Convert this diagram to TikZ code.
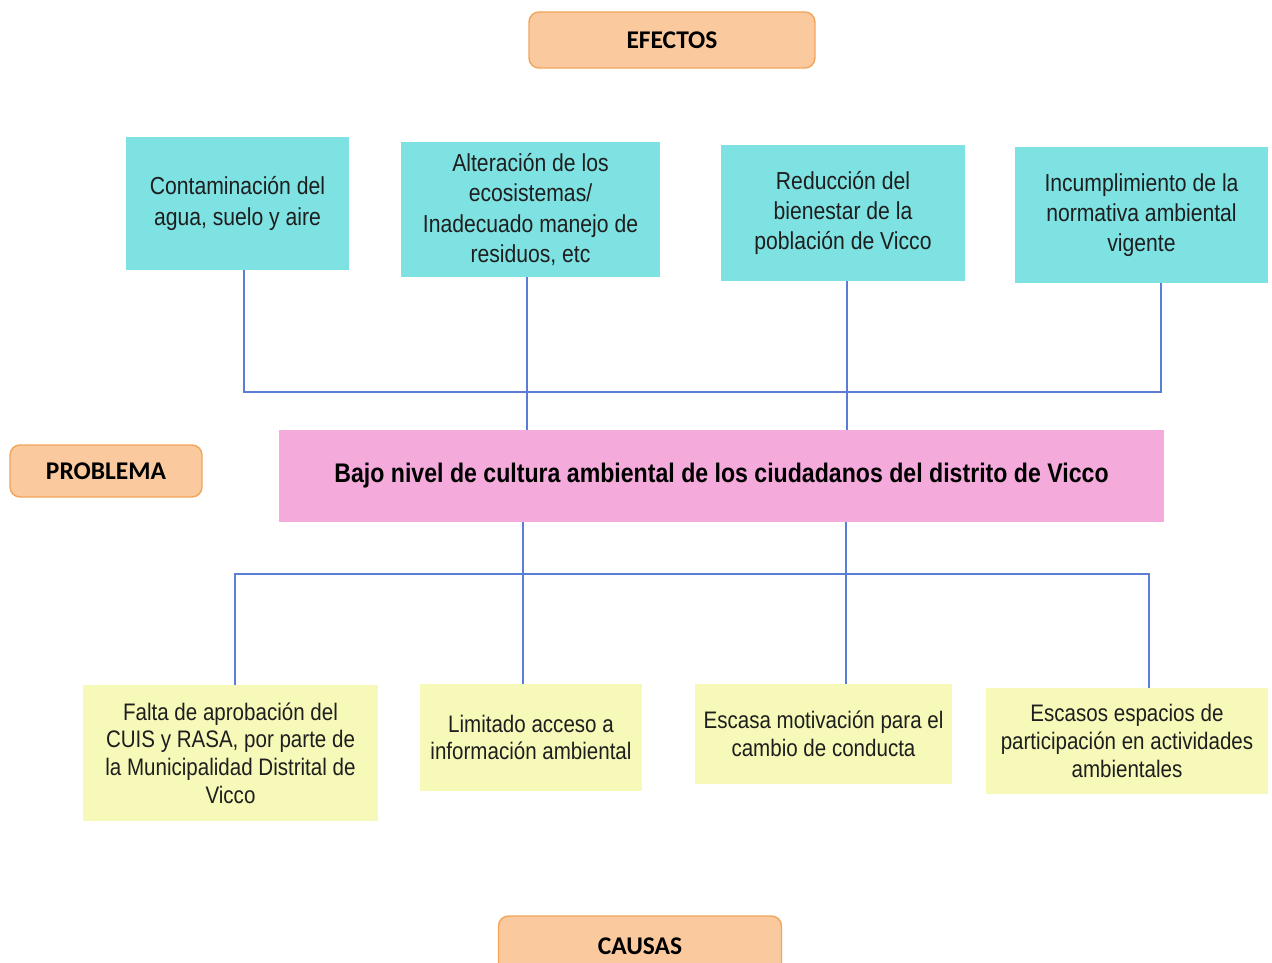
\documentclass[tikz,border=0pt]{standalone}
\usepackage{fontspec}
\setmainfont{Liberation Sans}
\newfontfamily\narrowf[FakeStretch=0.86]{Liberation Sans}
\newfontfamily\hdrf{Carlito}
\definecolor{hdrfill}{RGB}{250,202,158}
\definecolor{hdrborder}{RGB}{242,165,90}
\definecolor{effcol}{RGB}{126,226,226}
\definecolor{probcol}{RGB}{245,170,220}
\definecolor{causecol}{RGB}{246,249,184}
\definecolor{conncol}{RGB}{90,126,214}
\definecolor{txt}{RGB}{30,30,30}
\begin{document}
\begin{tikzpicture}[x=0.02cm,y=-0.02cm,
  hdr/.style={draw=hdrborder, fill=hdrfill, rounded corners=0.2cm, line width=0.8pt,
    font=\hdrf\bfseries\fontsize{14.5}{17}\selectfont, text=black, inner sep=0pt},
  eff/.style={fill=effcol, align=center, font=\narrowf\fontsize{14}{17.2}\selectfont, text=txt, inner sep=0pt},
  prob/.style={fill=probcol, align=center, font=\narrowf\bfseries\fontsize{15.3}{18}\selectfont, text=black, inner sep=0pt},
  cause/.style={fill=causecol, align=center, font=\narrowf\fontsize{13.6}{15.8}\selectfont, text=txt, inner sep=0pt},
  conn/.style={draw=conncol, line width=0.9pt}]
\useasboundingbox (0,0) rectangle (1272,963);
% headers
\node[hdr, minimum width={286*0.02cm}, minimum height={56*0.02cm}] (efectos) at (672,40) {EFECTOS};
\node[hdr, minimum width={192*0.02cm}, minimum height={52*0.02cm}] (problema) at (106,471) {PROBLEMA};
\node[hdr, minimum width={283*0.02cm}, minimum height={60*0.02cm}] (causas) at (640,946) {CAUSAS};
% effects
\node[eff, minimum width={223*0.02cm}, minimum height={133*0.02cm}] (e1) at (237.5,203.5) {Contaminación del\\agua, suelo y aire};
\node[eff, minimum width={259*0.02cm}, minimum height={135*0.02cm}] (e2) at (530.5,209.5) {Alteración de los\\ecosistemas/\\Inadecuado manejo de\\residuos, etc};
\node[eff, minimum width={244*0.02cm}, minimum height={136*0.02cm}] (e3) at (843,213) {Reducción del\\bienestar de la\\población de Vicco};
\node[eff, minimum width={253*0.02cm}, minimum height={136*0.02cm}] (e4) at (1141.5,215) {Incumplimiento de la\\normativa ambiental\\vigente};
% problem
\node[prob, minimum width={885*0.02cm}, minimum height={92*0.02cm}] (prob) at (721.5,476) {Bajo nivel de cultura ambiental de los ciudadanos del distrito de Vicco};
% causes
\node[cause, minimum width={295*0.02cm}, minimum height={136*0.02cm}] (c1) at (230.5,753) {Falta de aprobación del\\CUIS y RASA, por parte de\\la Municipalidad Distrital de\\Vicco};
\node[cause, minimum width={222*0.02cm}, minimum height={107*0.02cm}] (c2) at (531,737.5) {Limitado acceso a\\información ambiental};
\node[cause, minimum width={257*0.02cm}, minimum height={100*0.02cm}] (c3) at (823.5,734) {Escasa motivación para el\\cambio de conducta};
\node[cause, minimum width={282*0.02cm}, minimum height={106*0.02cm}] (c4) at (1127,741) {Escasos espacios de\\participación en actividades\\ambientales};
% connectors top
\coordinate (topbar) at (0,392);
\coordinate (e1b) at ([xshift={6.5*0.02cm}]e1.south);
\coordinate (e4b) at ([xshift={19.5*0.02cm}]e4.south);
\draw[conn] (e1b) -- (e1b |- topbar) -- (e4b |- topbar) -- (e4b);
\coordinate (e2b) at ([xshift={-3.5*0.02cm}]e2.south);
\draw[conn] (e2b) -- (e2b |- prob.north);
\coordinate (e3b) at ([xshift={4*0.02cm}]e3.south);
\draw[conn] (e3b) -- (e3b |- prob.north);
% connectors bottom
\coordinate (botbar) at (0,574);
\coordinate (c1t) at ([xshift={4.5*0.02cm}]c1.north);
\coordinate (c4t) at ([xshift={22*0.02cm}]c4.north);
\draw[conn] (c1t) -- (c1t |- botbar) -- (c4t |- botbar) -- (c4t);
\coordinate (c2t) at ([xshift={-8*0.02cm}]c2.north);
\draw[conn] (c2t |- prob.south) -- (c2t);
\coordinate (c3t) at ([xshift={22.5*0.02cm}]c3.north);
\draw[conn] (c3t |- prob.south) -- (c3t);
\end{tikzpicture}
\end{document}
